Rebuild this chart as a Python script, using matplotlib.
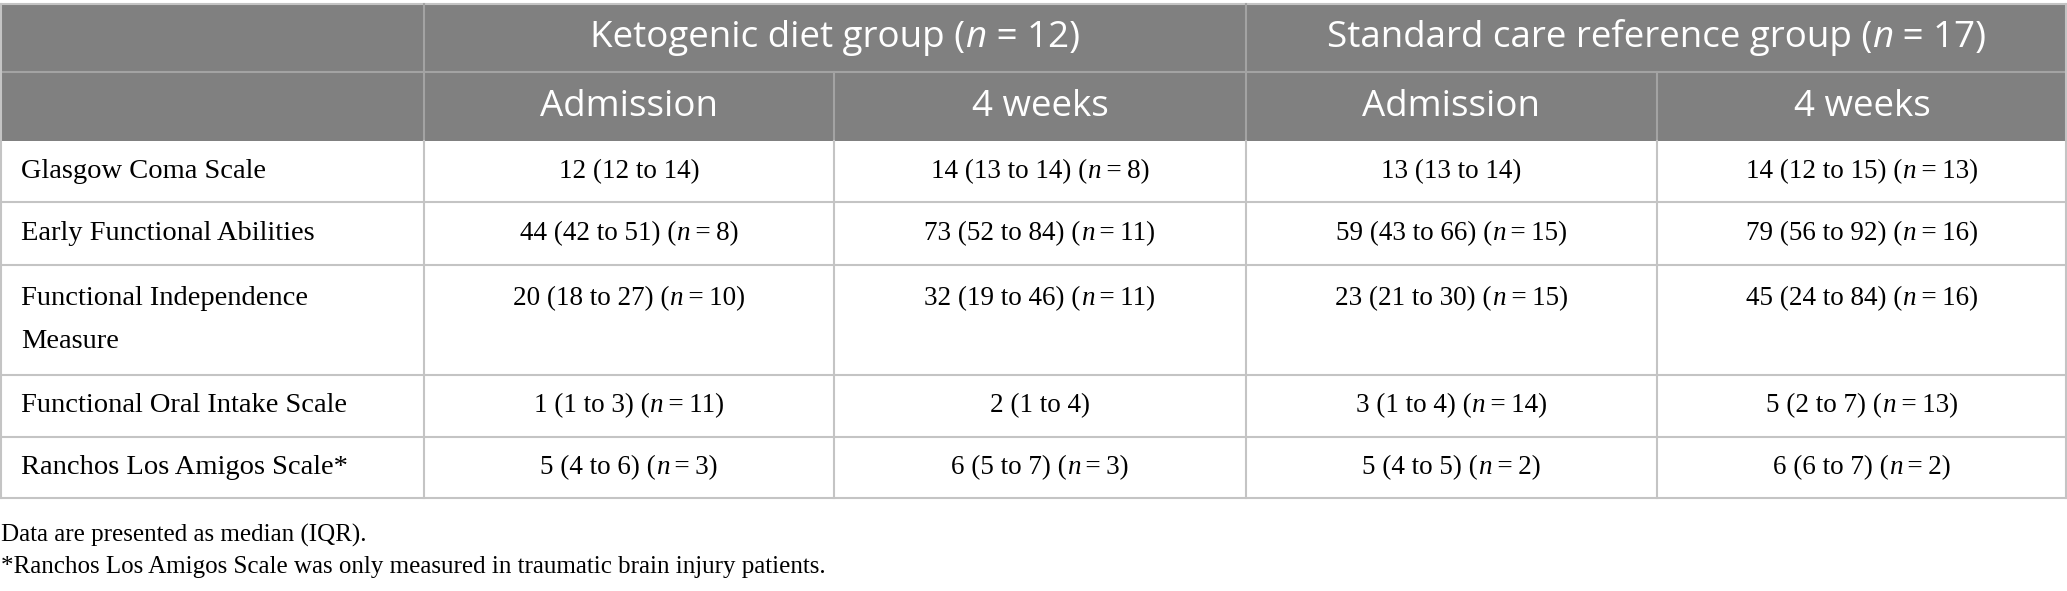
import matplotlib
matplotlib.use("Agg")
import matplotlib.pyplot as plt

# ======================
# DATA
# ======================
groups = ["Ketogenic diet group", "Standard care reference group"]
group_n = [12, 17]
timepoints = ["Admission", "4 weeks"]

row_labels = [
    "Glasgow Coma Scale",
    "Early Functional Abilities",
    "Functional Independence\nMeasure",
    "Functional Oral Intake Scale",
    "Ranchos Los Amigos Scale*",
]

# median, q1, q3, n (None = whole group)
keto_adm_med = [12, 44, 20, 1, 5]
keto_adm_q1 = [12, 42, 18, 1, 4]
keto_adm_q3 = [14, 51, 27, 3, 6]
keto_adm_n = [None, 8, 10, 11, 3]

keto_4w_med = [14, 73, 32, 2, 6]
keto_4w_q1 = [13, 52, 19, 1, 5]
keto_4w_q3 = [14, 84, 46, 4, 7]
keto_4w_n = [8, 11, 11, None, 3]

std_adm_med = [13, 59, 23, 3, 5]
std_adm_q1 = [13, 43, 21, 1, 4]
std_adm_q3 = [14, 66, 30, 4, 5]
std_adm_n = [None, 15, 15, 14, 2]

std_4w_med = [14, 79, 45, 5, 6]
std_4w_q1 = [12, 56, 24, 2, 6]
std_4w_q3 = [15, 92, 84, 7, 7]
std_4w_n = [13, 16, 16, 13, 2]

footnotes = [
    "Data are presented as median (IQR).",
    "*Ranchos Los Amigos Scale was only measured in traumatic brain injury patients.",
]

# ======================
# LAYOUT
# ======================
W, H = 2067, 591
COL_X = [0, 424, 834, 1246, 1657, 2067]
ROW_Y = [4, 72, 141, 202, 265, 375, 437, 498]
HEADER_BG = "#808080"
LINE_COL = "#c4c4c4"
HEAD_LINE_COL = "#a3a3a3"
SANS = ["Open Sans", "DejaVu Sans"]
SERIF = ["Liberation Serif", "DejaVu Serif"]
HEAD_FS = 26.5
LABEL_FS = 20.5
CELL_FS = 19.5
NOTE_FS = 18

fig = plt.figure(figsize=(W / 100, H / 100), dpi=100)
ax = fig.add_axes([0, 0, 1, 1])
ax.set_xlim(0, W)
ax.set_ylim(H, 0)
ax.axis("off")
renderer = fig.canvas.get_renderer()


def draw_runs(x, y, runs, family, size, color="black", ha="center"):
    """Draw a line made of (text, italic) pieces, one after another."""
    texts = []
    widths = []
    for s, italic in runs:
        t = ax.text(0, y, s, family=family, fontsize=size, color=color,
                    style="italic" if italic else "normal",
                    ha="left", va="center")
        w = t.get_window_extent(renderer).width
        texts.append(t)
        widths.append(w)
    total = sum(widths)
    cur = x - total / 2 if ha == "center" else x
    for t, w in zip(texts, widths):
        t.set_x(cur)
        cur += w


def cell_runs(med, q1, q3, n):
    runs = [(f"{med} ({q1} to {q3})", False)]
    if n is not None:
        runs = [(f"{med} ({q1} to {q3}) (", False), ("n", True),
                (f"\u2009=\u2009{n})", False)]
    return runs


# header background
ax.add_patch(plt.Rectangle((0, ROW_Y[0]), W, ROW_Y[2] - ROW_Y[0],
                           facecolor=HEADER_BG, edgecolor="none", zorder=0))

# header lines
ax.plot([0, W], [ROW_Y[0], ROW_Y[0]], color=LINE_COL, lw=1.5)
ax.plot([0, W], [ROW_Y[1], ROW_Y[1]], color=HEAD_LINE_COL, lw=1.5)
for cx in [COL_X[1], COL_X[3]]:
    ax.plot([cx, cx], [ROW_Y[0], ROW_Y[2]], color=HEAD_LINE_COL, lw=1.5)
for cx in [COL_X[2], COL_X[4]]:
    ax.plot([cx, cx], [ROW_Y[1], ROW_Y[2]], color=HEAD_LINE_COL, lw=1.5)

# body lines
for ry in ROW_Y[3:]:
    ax.plot([0, W], [ry, ry], color=LINE_COL, lw=1.5)
for cx in COL_X[1:5]:
    ax.plot([cx, cx], [ROW_Y[2], ROW_Y[-1]], color=LINE_COL, lw=1.5)
for cx in [COL_X[0] + 0.75, COL_X[-1] - 0.75]:
    ax.plot([cx, cx], [ROW_Y[0], ROW_Y[-1]], color=LINE_COL, lw=1.5)

# header text
for i, (g, n) in enumerate(zip(groups, group_n)):
    xc = (COL_X[1 + 2 * i] + COL_X[3 + 2 * i]) / 2
    draw_runs(xc, (ROW_Y[0] + ROW_Y[1]) / 2,
              [(g + " (", False), ("n", True), (f" = {n})", False)],
              SANS, HEAD_FS, color="white")
    for j, tp in enumerate(timepoints):
        xc = (COL_X[1 + 2 * i + j] + COL_X[2 + 2 * i + j]) / 2
        ax.text(xc, (ROW_Y[1] + ROW_Y[2]) / 2, tp, family=SANS,
                fontsize=HEAD_FS, color="white", ha="center", va="center")

# body text
columns = [
    (keto_adm_med, keto_adm_q1, keto_adm_q3, keto_adm_n),
    (keto_4w_med, keto_4w_q1, keto_4w_q3, keto_4w_n),
    (std_adm_med, std_adm_q1, std_adm_q3, std_adm_n),
    (std_4w_med, std_4w_q1, std_4w_q3, std_4w_n),
]
LINE_STEP = 43
for r, label in enumerate(row_labels):
    top, bot = ROW_Y[2 + r], ROW_Y[3 + r]
    nlines = label.count("\n") + 1
    y0 = (top + bot) / 2 - (nlines - 1) * LINE_STEP / 2
    for k, part in enumerate(label.split("\n")):
        ax.text(21, y0 + k * LINE_STEP, part, family=SERIF, fontsize=LABEL_FS,
                ha="left", va="center")
    for c, (med, q1, q3, nn) in enumerate(columns):
        xc = (COL_X[1 + c] + COL_X[2 + c]) / 2
        draw_runs(xc, y0, cell_runs(med[r], q1[r], q3[r], nn[r]),
                  SERIF, CELL_FS)

# footnotes
for k, note in enumerate(footnotes):
    ax.text(1, 535 + k * 32, note, family=SERIF, fontsize=NOTE_FS,
            ha="left", va="center")

fig.savefig("out.png", dpi=100)
plt.close(fig)
